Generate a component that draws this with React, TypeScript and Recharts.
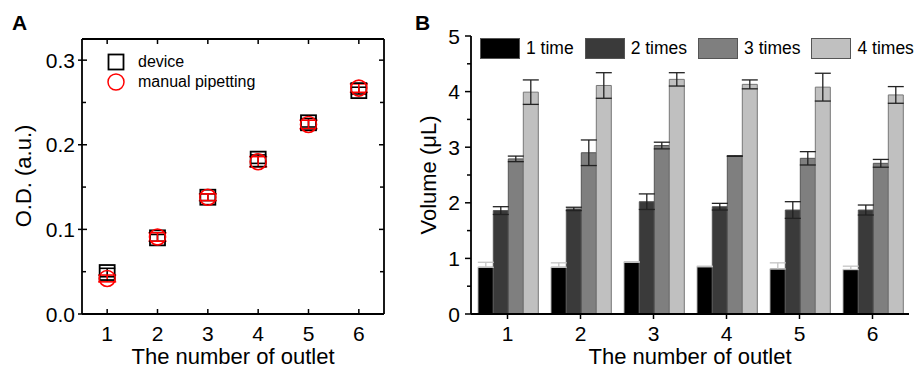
import React from "react";
import {
  ScatterChart, Scatter, BarChart, Bar, XAxis, YAxis, ErrorBar, Legend, Label,
} from "recharts";

// ---------- Panel A data ----------
const outlets = [1, 2, 3, 4, 5, 6];
const deviceOD = [0.049, 0.090, 0.138, 0.183, 0.226, 0.264];
const deviceErr = [0.005, 0.004, 0.004, 0.005, 0.005, 0.004];
const manualOD = [0.042, 0.091, 0.138, 0.180, 0.224, 0.267];
const manualErr = [0.004, 0.005, 0.004, 0.006, 0.005, 0.005];
const odTicks = [0, 0.05, 0.1, 0.15, 0.2, 0.25, 0.3];

// ---------- Panel B data ----------
const outletLabels = ["1", "2", "3", "4", "5", "6"];
const seriesNames = ["1 time", "2 times", "3 times", "4 times"];
const seriesColors = ["#000000", "#3a3a3a", "#7f7f7f", "#c0c0c0"];
const vol1 = [0.84, 0.84, 0.93, 0.85, 0.81, 0.80];
const vol1Err = [0.09, 0.08, 0.01, 0.01, 0.11, 0.06];
const vol2 = [1.86, 1.89, 2.02, 1.93, 1.87, 1.87];
const vol2Err = [0.07, 0.03, 0.14, 0.06, 0.15, 0.09];
const vol3 = [2.79, 2.90, 3.03, 2.84, 2.80, 2.71];
const vol3Err = [0.05, 0.23, 0.06, 0.005, 0.12, 0.07];
const vol4 = [3.99, 4.11, 4.22, 4.13, 4.08, 3.94];
const vol4Err = [0.22, 0.23, 0.12, 0.08, 0.25, 0.15];
const volTicks = [0, 0.5, 1, 1.5, 2, 2.5, 3, 3.5, 4, 4.5, 5];

const FONT = "'Liberation Sans', Arial, sans-serif";

const deviceData = outlets.map((x, i) => ({ x, y: deviceOD[i], err: deviceErr[i] }));
const manualData = outlets.map((x, i) => ({ x, y: manualOD[i], err: manualErr[i] }));

const volData = outletLabels.map((name, i) => ({
  name,
  s1: vol1[i], e1: [0, vol1Err[i]],
  s2: vol2[i], e2: vol2Err[i],
  s3: vol3[i], e3: vol3Err[i],
  s4: vol4[i], e4: vol4Err[i],
}));
const volKeys = ["s1", "s2", "s3", "s4"];
const errKeys = ["e1", "e2", "e3", "e4"];
const errColors = ["#c4c4c4", "#222", "#222", "#222"];

const isMajor = (v: number, step: number) =>
  Math.abs(v / step - Math.round(v / step)) < 1e-6;

// ----- tick renderers -----
const ALeftTick = (p: any) => {
  const v = p.payload.value;
  const major = isMajor(v, 0.1);
  return (
    <g>
      <line x1={major ? p.x - 4 : p.x} x2={p.x + (major ? 5 : 4)} y1={p.y} y2={p.y} stroke="#000" strokeWidth={1.5} />
      {major && (
        <text x={p.x - 7} y={p.y} textAnchor="end" dominantBaseline="central" fontSize={21} fontFamily={FONT} fill="#000">
          {v.toFixed(1)}
        </text>
      )}
    </g>
  );
};
const ARightTick = (p: any) => (
  <line x1={p.x} x2={p.x - (isMajor(p.payload.value, 0.1) ? 5 : 4)} y1={p.y} y2={p.y} stroke="#000" strokeWidth={1.5} />
);
const ABottomTick = (p: any) => (
  <g>
    <line x1={p.x} x2={p.x} y1={p.y} y2={p.y - 5} stroke="#000" strokeWidth={1.5} />
    <text x={p.x} y={p.y + 19} textAnchor="middle" dominantBaseline="central" fontSize={21} fontFamily={FONT} fill="#000">
      {p.payload.value}
    </text>
  </g>
);
const ATopTick = (p: any) => (
  <line x1={p.x} x2={p.x} y1={p.y} y2={p.y + 5} stroke="#000" strokeWidth={1.5} />
);

const BLeftTick = (p: any) => {
  const v = p.payload.value;
  const major = isMajor(v, 1);
  return (
    <g>
      <line x1={p.x - (major ? 6 : 4)} x2={p.x} y1={p.y} y2={p.y} stroke="#000" strokeWidth={1.5} />
      {major && (
        <text x={p.x - 11} y={p.y} textAnchor="end" dominantBaseline="central" fontSize={21} fontFamily={FONT} fill="#000">
          {v}
        </text>
      )}
    </g>
  );
};
const BBottomTick = (p: any) => (
  <g>
    <line x1={p.x} x2={p.x} y1={p.y} y2={p.y + 5} stroke="#000" strokeWidth={1.5} />
    <text x={p.x} y={p.y + 19} textAnchor="middle" dominantBaseline="central" fontSize={21} fontFamily={FONT} fill="#000">
      {p.payload.value}
    </text>
  </g>
);

const squareShape = (p: any) => (
  <rect x={p.cx - 7.5} y={p.cy - 7.5} width={15} height={15} fill="none" stroke="#000" strokeWidth={1.8} />
);
const circleShape = (p: any) => (
  <circle cx={p.cx} cy={p.cy} r={8} fill="none" stroke="#ff0000" strokeWidth={1.6} />
);
const emptyShape = () => <g />;

const LegendA = () => (
  <div style={{ fontFamily: FONT, fontSize: 16, color: "#000", lineHeight: "20px" }}>
    <div style={{ display: "flex", alignItems: "center", height: 20 }}>
      <svg width={18} height={18} style={{ marginRight: 13 }}>
        <rect x={1.5} y={1.5} width={15} height={15} fill="none" stroke="#000" strokeWidth={1.8} />
      </svg>
      <span>device</span>
    </div>
    <div style={{ display: "flex", alignItems: "center", height: 20 }}>
      <svg width={18} height={18} style={{ marginRight: 13 }}>
        <circle cx={9} cy={9} r={8} fill="none" stroke="#ff0000" strokeWidth={1.5} />
      </svg>
      <span>manual pipetting</span>
    </div>
  </div>
);

const LegendB = () => (
  <div style={{ display: "flex", alignItems: "center", fontFamily: FONT, fontSize: 17.5, color: "#000", whiteSpace: "nowrap" }}>
    {seriesNames.map((n, i) => (
      <div key={n} style={{ display: "flex", alignItems: "center", marginRight: i === 3 ? 0 : 11 }}>
        <div style={{ width: 38, height: 19, background: seriesColors[i], border: "1px solid #555", marginRight: 6 }} />
        <span>{n}</span>
      </div>
    ))}
  </div>
);

export default function App() {
  return (
    <div style={{ position: "fixed", left: 0, top: 0, width: 915, height: 367, background: "#fff", overflow: "hidden" }}>
      <div style={{ position: "absolute", left: 12, top: 11, fontFamily: FONT, fontWeight: "bold", fontSize: 21 }}>A</div>
      <div style={{ position: "absolute", left: 415, top: 11, fontFamily: FONT, fontWeight: "bold", fontSize: 21 }}>B</div>

      <div style={{ position: "absolute", left: 0, top: 0 }}>
        <ScatterChart width={460} height={367} margin={{ top: 38, right: 75, bottom: 0, left: 0 }}>
          <XAxis xAxisId="b" dataKey="x" type="number" domain={[0.5, 6.5]} ticks={outlets} interval={0}
            height={53} tickSize={0} tickMargin={0} tickLine={false} tick={ABottomTick}
            axisLine={{ stroke: "#000", strokeWidth: 1.8 }} allowDataOverflow>
            <Label content={() => (
              <text x={233} y={356} textAnchor="middle" dominantBaseline="central" fontSize={22} fontFamily={FONT} fill="#000">
                The number of outlet
              </text>
            )} />
          </XAxis>
          <XAxis xAxisId="t" dataKey="x" orientation="top" type="number" domain={[0.5, 6.5]} ticks={outlets} interval={0}
            height={1} tickSize={0} tickMargin={0} tickLine={false} tick={ATopTick}
            axisLine={{ stroke: "#000", strokeWidth: 1.8 }} allowDataOverflow />
          <YAxis yAxisId="l" dataKey="y" type="number" domain={[0, 0.325]} ticks={odTicks} interval={0}
            width={82} tickSize={0} tickMargin={0} tickLine={false} tick={ALeftTick}
            axisLine={{ stroke: "#000", strokeWidth: 1.8 }} allowDataOverflow>
            <Label content={() => (
              <text x={23} y={176} textAnchor="middle" dominantBaseline="central" fontSize={22} fontFamily={FONT} fill="#000"
                transform="rotate(-90 23 176)">
                O.D. (a.u.)
              </text>
            )} />
          </YAxis>
          <YAxis yAxisId="r" dataKey="y" orientation="right" type="number" domain={[0, 0.325]} ticks={odTicks} interval={0}
            width={1} tickSize={0} tickMargin={0} tickLine={false} tick={ARightTick}
            axisLine={{ stroke: "#000", strokeWidth: 1.8 }} allowDataOverflow />
          <Legend layout="vertical" align="center" verticalAlign="middle" content={LegendA}
            wrapperStyle={{ position: "absolute", left: 107, top: 52, width: 220 }} />
          <Scatter name="frame" data={deviceData} xAxisId="t" yAxisId="r" shape={emptyShape} legendType="none" isAnimationActive={false} />
          <Scatter name="device" data={deviceData} xAxisId="b" yAxisId="l" shape={squareShape} isAnimationActive={false}>
            <ErrorBar dataKey="err" direction="y" width={8} stroke="#000" strokeWidth={1.6} isAnimationActive={false} />
          </Scatter>
          <Scatter name="manual pipetting" data={manualData} xAxisId="b" yAxisId="l" shape={circleShape} isAnimationActive={false}>
            <ErrorBar dataKey="err" direction="y" width={9} stroke="#ff0000" strokeWidth={1.6} isAnimationActive={false} />
          </Scatter>
        </ScatterChart>
      </div>

      <div style={{ position: "absolute", left: 380, top: 0 }}>
        <BarChart width={535} height={367} data={volData} margin={{ top: 36, right: 6, bottom: 0, left: 0 }}
          barCategoryGap="10%" barGap={0}>
          <XAxis dataKey="name" height={53} tickSize={0} tickMargin={0} tickLine={false} tick={BBottomTick} interval={0}
            axisLine={{ stroke: "#000", strokeWidth: 1.8 }}>
            <Label content={() => (
              <text x={310} y={356} textAnchor="middle" dominantBaseline="central" fontSize={22} fontFamily={FONT} fill="#000">
                The number of outlet
              </text>
            )} />
          </XAxis>
          <YAxis type="number" domain={[0, 5]} ticks={volTicks} interval={0} width={91} tickSize={0} tickMargin={0}
            tickLine={false} tick={BLeftTick} axisLine={{ stroke: "#000", strokeWidth: 1.8 }} allowDataOverflow>
            <Label content={() => (
              <text x={48} y={175} textAnchor="middle" dominantBaseline="central" fontSize={22} fontFamily={FONT} fill="#000"
                transform="rotate(-90 48 175)">
                Volume (μL)
              </text>
            )} />
          </YAxis>
          <Legend layout="horizontal" align="center" verticalAlign="middle" content={LegendB}
            wrapperStyle={{ position: "absolute", left: 100, top: 38, width: 440 }} />
          {volKeys.map((k, i) => (
            <Bar key={k} dataKey={k} name={seriesNames[i]} fill={seriesColors[i]} stroke={i === 3 ? "#777" : "#555"}
              strokeWidth={1} isAnimationActive={false}>
              <ErrorBar dataKey={errKeys[i]} direction="y" width={8} stroke={errColors[i]} strokeWidth={1.3} isAnimationActive={false} />
            </Bar>
          ))}
        </BarChart>
      </div>
    </div>
  );
}
